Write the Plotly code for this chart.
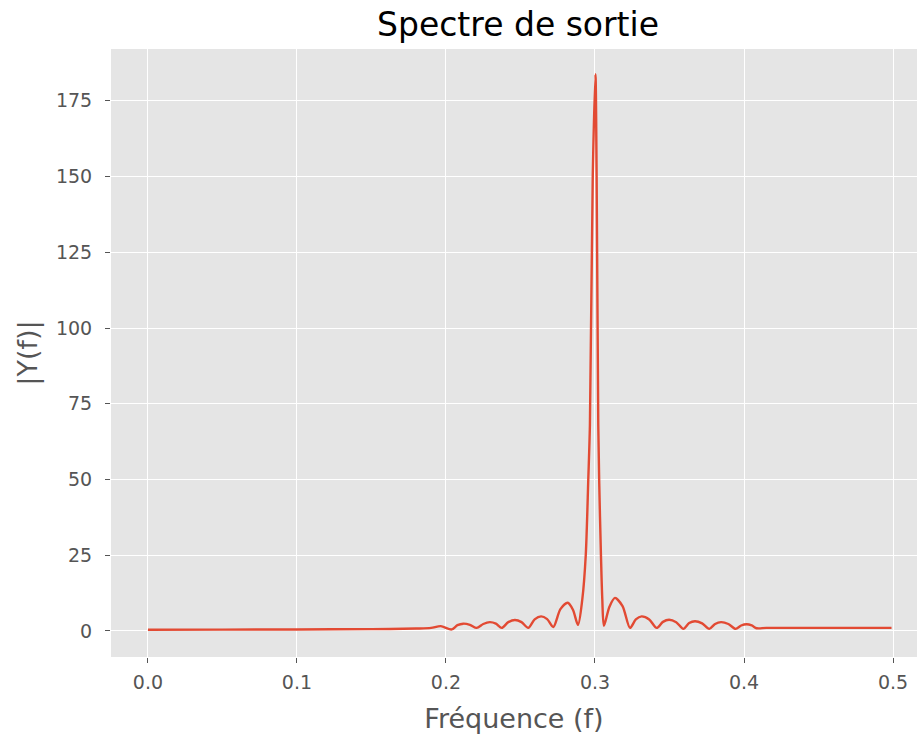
import plotly.graph_objects as go

# Frequency (f) and magnitude |Y(f)|
freq = [0.000, 0.050, 0.100, 0.150, 0.180, 0.190, 0.1965, 0.2038,
        0.2077, 0.2116, 0.2161, 0.2206,
        0.2250, 0.2295, 0.2335, 0.2374,
        0.2418, 0.2463, 0.2507, 0.2552,
        0.2595, 0.2638, 0.2679, 0.2720,
        0.2768, 0.2817, 0.2852, 0.2886,
        0.2915, 0.2938, 0.2955, 0.2966, 0.2985, 0.3003, 0.3011, 0.3022, 0.3028, 0.3040, 0.3049, 0.3060,
        0.3097, 0.3134, 0.3185, 0.3235,
        0.3274, 0.3313, 0.3364, 0.3414,
        0.3456, 0.3497, 0.3545, 0.3593,
        0.3632, 0.3671, 0.3719, 0.3767,
        0.3806, 0.3846, 0.3895, 0.3944,
        0.3981, 0.4018, 0.4052, 0.4085,
        0.4150, 0.4500, 0.4990]
magnitude = [0.4, 0.45, 0.5, 0.6, 0.8, 1.0, 1.6, 0.5,
             1.9, 2.4, 2.0, 1.0,
             2.3, 2.9, 2.4, 1.0,
             2.9, 3.6, 2.9, 1.0,
             3.8, 4.8, 3.9, 1.3,
             7.2, 9.3, 7.0, 2.0,
             10.5, 25.0, 50.0, 68.0, 150.0, 183.8, 150.0, 68.0, 50.0, 25.0, 10.5, 1.7,
             8.0, 10.9, 8.2, 1.0,
             3.8, 4.8, 3.8, 1.0,
             3.0, 3.7, 2.9, 0.7,
             2.6, 3.2, 2.5, 0.7,
             2.3, 2.9, 2.3, 0.7,
             1.8, 2.2, 1.8, 0.9,
             1.0, 1.0, 1.0]

x_ticks = [0.0, 0.1, 0.2, 0.3, 0.4, 0.5]
x_labels = ["0.0", "0.1", "0.2", "0.3", "0.4", "0.5"]
y_ticks = [0, 25, 50, 75, 100, 125, 150, 175]
y_labels = ["0", "25", "50", "75", "100", "125", "150", "175"]

title_text = "Spectre de sortie"
x_title = "Fréquence (f)"
y_title = "|Y(f)|"

FONT = "DejaVu Sans"
GREY = "#555555"

fig = go.Figure()
fig.add_trace(go.Scatter(
    x=freq, y=magnitude, mode="lines",
    line=dict(color="#E24A33", width=2.4, shape="spline", smoothing=0.8),
    hoverinfo="skip", showlegend=False,
))

fig.update_layout(
    width=917, height=740,
    margin=dict(l=111, r=0, t=49, b=83),
    paper_bgcolor="white",
    plot_bgcolor="#E5E5E5",
    font=dict(family=FONT, color=GREY),
    title=dict(text=title_text, x=0.505, xref="paper", xanchor="center",
               y=1 - 24 / 740, yref="container", yanchor="middle",
               font=dict(family=FONT, size=33, color="black")),
)
fig.update_xaxes(
    range=[-0.0248, 0.5161],
    tickvals=x_ticks, ticktext=x_labels,
    showgrid=True, gridcolor="white", gridwidth=1.4,
    zeroline=False, showline=False,
    ticks="outside", ticklen=5, tickwidth=1.2, tickcolor=GREY,
    tickfont=dict(family=FONT, size=19, color=GREY),
    ticklabelstandoff=3,
    title=dict(text=x_title, font=dict(family=FONT, size=27, color=GREY), standoff=17),
)
fig.update_yaxes(
    range=[-8.6, 192.1],
    tickvals=y_ticks, ticktext=y_labels,
    showgrid=True, gridcolor="white", gridwidth=1.4,
    zeroline=False, showline=False,
    ticks="outside", ticklen=5, tickwidth=1.2, tickcolor=GREY,
    tickfont=dict(family=FONT, size=19, color=GREY),
    ticklabelstandoff=9,
    title=dict(text=y_title, font=dict(family=FONT, size=27, color=GREY), standoff=10),
)

fig.write_html("out.html")
